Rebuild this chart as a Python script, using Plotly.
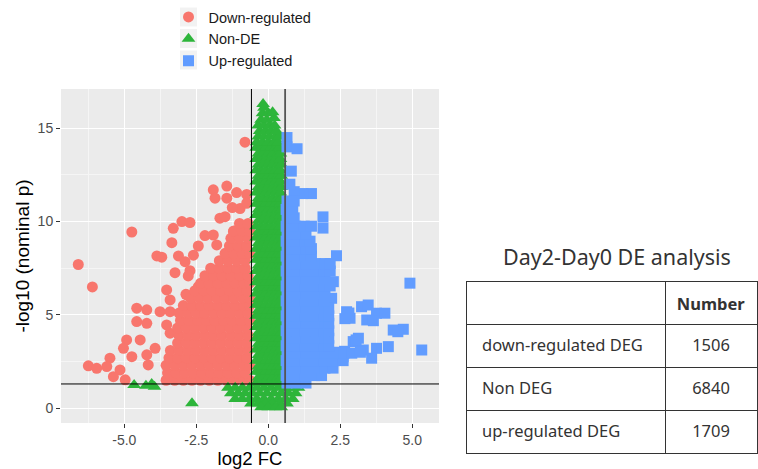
import plotly.graph_objects as go

# ---------------- data ----------------
down_points = [
    # sparse points
    (-6.60,7.70),(-6.11,6.50),(-4.74,9.44),(-3.00,10.00),(-2.72,9.95),(-3.30,9.64),(-3.35,8.87),
    (-2.20,9.25),(-1.91,9.28),(-1.79,8.75),(-2.43,8.69),(-2.60,8.20),(-3.87,8.16),(-3.70,8.09),
    (-3.12,8.16),(-2.89,7.85),(-3.24,7.26),(-2.72,7.37),(-2.78,7.09),(-3.53,6.34),(-2.86,6.10),
    (-2.43,6.51),(-3.41,5.80),(-2.83,6.07),
    (-1.91,11.70),(-1.44,11.90),(-1.10,11.55),(-1.85,11.25),(-1.44,11.25),(-0.75,11.45),
    (-1.68,10.18),(-1.50,10.26),(-0.98,10.70),(-0.75,10.98),(-1.21,9.46),(-0.98,9.73),
    (-0.81,14.25),(-1.25,10.75),
    (-4.57,5.36),(-4.22,5.27),(-3.76,5.17),(-3.41,5.17),(-4.57,4.64),(-4.22,4.55),(-4.45,3.66),
    (-4.92,3.66),(-5.03,3.21),(-4.74,2.76),(-5.50,2.68),(-6.25,2.27),(-5.96,2.14),(-5.61,2.23),
    (-5.15,2.05),(-5.38,1.69),(-4.97,1.52),(-4.17,2.32),(-4.22,2.86),(-3.93,3.21),(-3.41,4.02),
    (-3.53,4.46),
    # dense cloud
    (-3.55,1.5),(-3.25,1.5),(-2.95,1.5),(-2.65,1.5),(-2.35,1.5),(-2.05,1.5),(-1.75,1.5),(-1.45,1.5),(-1.15,1.5),(-0.85,1.5),(-0.65,1.5),
    (-3.50,1.9),(-3.20,1.9),(-2.90,1.9),(-2.60,1.9),(-2.30,1.9),(-2.00,1.9),(-1.70,1.9),(-1.40,1.9),(-1.10,1.9),(-0.80,1.9),
    (-3.55,2.3),(-3.25,2.3),(-2.95,2.3),(-2.65,2.3),(-2.35,2.3),(-2.05,2.3),(-1.75,2.3),(-1.45,2.3),(-1.15,2.3),(-0.85,2.3),(-0.65,2.3),
    (-3.45,2.7),(-3.15,2.7),(-2.85,2.7),(-2.55,2.7),(-2.25,2.7),(-1.95,2.7),(-1.65,2.7),(-1.35,2.7),(-1.05,2.7),(-0.75,2.7),
    (-3.40,3.1),(-3.10,3.1),(-2.80,3.1),(-2.50,3.1),(-2.20,3.1),(-1.90,3.1),(-1.60,3.1),(-1.30,3.1),(-1.00,3.1),(-0.70,3.1),
    (-3.15,3.5),(-2.85,3.5),(-2.55,3.5),(-2.25,3.5),(-1.95,3.5),(-1.65,3.5),(-1.35,3.5),(-1.05,3.5),(-0.75,3.5),
    (-3.10,3.9),(-2.80,3.9),(-2.50,3.9),(-2.20,3.9),(-1.90,3.9),(-1.60,3.9),(-1.30,3.9),(-1.00,3.9),(-0.70,3.9),
    (-3.15,4.3),(-2.85,4.3),(-2.55,4.3),(-2.25,4.3),(-1.95,4.3),(-1.65,4.3),(-1.35,4.3),(-1.05,4.3),(-0.75,4.3),
    (-3.05,4.7),(-2.75,4.7),(-2.45,4.7),(-2.15,4.7),(-1.85,4.7),(-1.55,4.7),(-1.25,4.7),(-0.95,4.7),(-0.65,4.7),
    (-3.10,5.1),(-2.80,5.1),(-2.50,5.1),(-2.20,5.1),(-1.90,5.1),(-1.60,5.1),(-1.30,5.1),(-1.00,5.1),(-0.70,5.1),
    (-2.95,5.5),(-2.65,5.5),(-2.35,5.5),(-2.05,5.5),(-1.75,5.5),(-1.45,5.5),(-1.15,5.5),(-0.85,5.5),(-0.65,5.5),
    (-2.70,5.9),(-2.40,5.9),(-2.10,5.9),(-1.80,5.9),(-1.50,5.9),(-1.20,5.9),(-0.90,5.9),(-0.65,5.9),
    (-2.55,6.3),(-2.25,6.3),(-1.95,6.3),(-1.65,6.3),(-1.35,6.3),(-1.05,6.3),(-0.75,6.3),
    (-2.35,6.7),(-2.05,6.7),(-1.75,6.7),(-1.45,6.7),(-1.15,6.7),(-0.85,6.7),(-0.65,6.7),
    (-2.20,7.1),(-1.90,7.1),(-1.60,7.1),(-1.30,7.1),(-1.00,7.1),(-0.70,7.1),
    (-2.00,7.5),(-1.70,7.5),(-1.40,7.5),(-1.10,7.5),(-0.80,7.5),
    (-1.70,7.9),(-1.40,7.9),(-1.10,7.9),(-0.80,7.9),
    (-1.50,8.3),(-1.20,8.3),(-0.90,8.3),(-0.65,8.3),
    (-1.35,8.7),(-1.05,8.7),(-0.75,8.7),
    (-1.30,9.1),(-1.00,9.1),(-0.70,9.1),
    (-1.20,9.5),(-0.90,9.5),(-0.65,9.5),
    (-1.00,9.9),(-0.70,9.9),
]

nonde_points = [
    # far left, below threshold
    (-4.66,1.25),(-4.25,1.20),(-3.95,1.15),(-4.05,1.30),(-2.65,0.27),
    # below the p threshold, around zero
    (-1.40,1.10),(-1.15,1.10),(-0.90,1.10),(-0.65,1.10),(-0.40,1.10),(-0.15,1.10),(0.10,1.10),(0.35,1.10),(0.60,1.10),(0.85,1.10),(1.05,1.10),
    (-1.30,0.80),(-1.05,0.80),(-0.80,0.80),(-0.55,0.80),(-0.30,0.80),(-0.05,0.80),(0.20,0.80),(0.45,0.80),(0.70,0.80),(0.95,0.80),
    (-1.15,0.50),(-0.90,0.50),(-0.65,0.50),(-0.40,0.50),(-0.15,0.50),(0.10,0.50),(0.35,0.50),(0.60,0.50),(0.85,0.50),
    (-0.60,0.25),(-0.35,0.25),(-0.10,0.25),(0.15,0.25),(0.40,0.25),(0.65,0.25),
    (-0.25,0.05),(0.00,0.05),(0.25,0.05),(0.45,0.05),
    # central column
    (-0.42,1.35),(-0.25,1.35),(-0.08,1.35),(0.09,1.35),(0.26,1.35),(0.42,1.35),
    (-0.34,1.65),(-0.17,1.65),(0.00,1.65),(0.17,1.65),(0.34,1.65),(0.45,1.65),
    (-0.42,1.95),(-0.25,1.95),(-0.08,1.95),(0.09,1.95),(0.26,1.95),(0.42,1.95),
    (-0.34,2.25),(-0.17,2.25),(0.00,2.25),(0.17,2.25),(0.34,2.25),(0.45,2.25),
    (-0.42,2.55),(-0.25,2.55),(-0.08,2.55),(0.09,2.55),(0.26,2.55),(0.42,2.55),
    (-0.34,2.85),(-0.17,2.85),(0.00,2.85),(0.17,2.85),(0.34,2.85),(0.45,2.85),
    (-0.42,3.15),(-0.25,3.15),(-0.08,3.15),(0.09,3.15),(0.26,3.15),(0.42,3.15),
    (-0.34,3.45),(-0.17,3.45),(0.00,3.45),(0.17,3.45),(0.34,3.45),(0.45,3.45),
    (-0.42,3.75),(-0.25,3.75),(-0.08,3.75),(0.09,3.75),(0.26,3.75),(0.42,3.75),
    (-0.34,4.05),(-0.17,4.05),(0.00,4.05),(0.17,4.05),(0.34,4.05),(0.45,4.05),
    (-0.42,4.35),(-0.25,4.35),(-0.08,4.35),(0.09,4.35),(0.26,4.35),(0.42,4.35),
    (-0.34,4.65),(-0.17,4.65),(0.00,4.65),(0.17,4.65),(0.34,4.65),(0.45,4.65),
    (-0.42,4.95),(-0.25,4.95),(-0.08,4.95),(0.09,4.95),(0.26,4.95),(0.42,4.95),
    (-0.34,5.25),(-0.17,5.25),(0.00,5.25),(0.17,5.25),(0.34,5.25),(0.45,5.25),
    (-0.42,5.55),(-0.25,5.55),(-0.08,5.55),(0.09,5.55),(0.26,5.55),(0.42,5.55),
    (-0.34,5.85),(-0.17,5.85),(0.00,5.85),(0.17,5.85),(0.34,5.85),(0.45,5.85),
    (-0.42,6.15),(-0.25,6.15),(-0.08,6.15),(0.09,6.15),(0.26,6.15),(0.42,6.15),
    (-0.34,6.45),(-0.17,6.45),(0.00,6.45),(0.17,6.45),(0.34,6.45),(0.45,6.45),
    (-0.42,6.75),(-0.25,6.75),(-0.08,6.75),(0.09,6.75),(0.26,6.75),(0.42,6.75),
    (-0.34,7.05),(-0.17,7.05),(0.00,7.05),(0.17,7.05),(0.34,7.05),(0.45,7.05),
    (-0.42,7.35),(-0.25,7.35),(-0.08,7.35),(0.09,7.35),(0.26,7.35),(0.42,7.35),
    (-0.34,7.65),(-0.17,7.65),(0.00,7.65),(0.17,7.65),(0.34,7.65),(0.45,7.65),
    (-0.42,7.95),(-0.25,7.95),(-0.08,7.95),(0.09,7.95),(0.26,7.95),(0.42,7.95),
    (-0.34,8.25),(-0.17,8.25),(0.00,8.25),(0.17,8.25),(0.34,8.25),(0.45,8.25),
    (-0.42,8.55),(-0.25,8.55),(-0.08,8.55),(0.09,8.55),(0.26,8.55),(0.42,8.55),
    (-0.34,8.85),(-0.17,8.85),(0.00,8.85),(0.17,8.85),(0.34,8.85),(0.45,8.85),
    (-0.42,9.15),(-0.25,9.15),(-0.08,9.15),(0.09,9.15),(0.26,9.15),(0.42,9.15),
    (-0.34,9.45),(-0.17,9.45),(0.00,9.45),(0.17,9.45),(0.34,9.45),(0.45,9.45),
    (-0.42,9.75),(-0.25,9.75),(-0.08,9.75),(0.09,9.75),(0.26,9.75),(0.42,9.75),
    (-0.34,10.05),(-0.17,10.05),(0.00,10.05),(0.17,10.05),(0.34,10.05),(0.45,10.05),
    (-0.42,10.35),(-0.25,10.35),(-0.08,10.35),(0.09,10.35),(0.26,10.35),(0.42,10.35),
    (-0.34,10.65),(-0.17,10.65),(0.00,10.65),(0.17,10.65),(0.34,10.65),(0.45,10.65),
    (-0.42,10.95),(-0.25,10.95),(-0.08,10.95),(0.09,10.95),(0.26,10.95),(0.42,10.95),
    (-0.34,11.25),(-0.17,11.25),(0.00,11.25),(0.17,11.25),(0.34,11.25),(0.45,11.25),
    (-0.42,11.55),(-0.25,11.55),(-0.08,11.55),(0.09,11.55),(0.26,11.55),(0.42,11.55),
    (-0.34,11.85),(-0.17,11.85),(0.00,11.85),(0.17,11.85),(0.34,11.85),(0.45,11.85),
    (-0.42,12.15),(-0.25,12.15),(-0.08,12.15),(0.09,12.15),(0.26,12.15),(0.42,12.15),
    (-0.34,12.45),(-0.17,12.45),(0.00,12.45),(0.17,12.45),(0.34,12.45),(0.45,12.45),
    (-0.42,12.75),(-0.25,12.75),(-0.08,12.75),(0.09,12.75),(0.26,12.75),(0.42,12.75),
    (-0.34,13.05),(-0.17,13.05),(0.00,13.05),(0.17,13.05),(0.34,13.05),(0.45,13.05),
    (-0.42,13.35),(-0.25,13.35),(-0.08,13.35),(0.09,13.35),(0.26,13.35),(0.42,13.35),
    (-0.34,13.65),(-0.17,13.65),(0.00,13.65),(0.17,13.65),(0.34,13.65),(0.42,13.65),
    (-0.42,13.95),(-0.25,13.95),(-0.08,13.95),(0.09,13.95),(0.26,13.95),(0.38,13.95),
    # top of the column
    (-0.40,14.25),(-0.20,14.25),(0.00,14.25),(0.20,14.25),(0.35,14.25),
    (-0.35,14.55),(-0.15,14.55),(0.05,14.55),(0.25,14.55),(0.38,14.55),
    (-0.30,14.85),(-0.10,14.85),(0.10,14.85),(0.28,14.85),
    (-0.35,15.15),(-0.15,15.15),(0.05,15.15),(0.22,15.15),
    (-0.25,15.45),(-0.05,15.45),(0.20,15.55),
    (-0.20,15.80),(0.00,15.80),(0.15,15.85),
    (-0.15,16.10),(-0.18,16.30),
]

up_points = [
    # sparse points
    (2.37,8.17),(2.26,6.78),(2.20,5.89),(2.72,5.17),(2.84,4.82),(3.24,5.44),(3.47,5.53),(3.76,5.09),
    (4.05,5.09),(3.42,4.73),(3.65,4.69),(4.34,4.19),(4.69,4.23),(3.13,3.75),(2.95,3.57),(4.17,3.30),
    (3.76,3.21),(3.59,2.68),(5.33,3.12),(3.30,3.12),(2.60,2.76),(4.92,6.70),(1.90,10.25),(1.90,9.65),
    (1.50,11.50),(1.20,11.50),(0.90,11.60),(0.75,12.00),(0.80,12.70),(0.65,14.50),(0.65,14.00),
    (1.00,13.90),(2.66,4.80),(2.80,5.10),(4.50,4.10),(3.05,3.66),(2.35,3.00),(2.65,3.05),
    # dense cloud
    (0.65,1.35),(0.98,1.35),(1.31,1.35),
    (0.62,1.75),(0.95,1.75),(1.28,1.75),(1.61,1.75),(1.85,1.75),
    (0.65,2.15),(0.98,2.15),(1.31,2.15),(1.64,2.15),(1.97,2.15),(2.25,2.15),
    (0.62,2.55),(0.95,2.55),(1.28,2.55),(1.61,2.55),(1.94,2.55),(2.27,2.55),(2.60,2.55),
    (0.65,2.95),(0.98,2.95),(1.31,2.95),(1.64,2.95),(1.97,2.95),(2.30,2.95),(2.63,2.95),(2.90,2.95),(3.20,3.00),
    (0.62,3.35),(0.95,3.35),(1.28,3.35),(1.61,3.35),(1.94,3.35),(2.10,3.35),
    (0.65,3.75),(0.98,3.75),(1.31,3.75),(1.64,3.75),(1.97,3.75),(2.10,3.75),
    (0.62,4.15),(0.95,4.15),(1.28,4.15),(1.61,4.15),(1.94,4.15),(2.10,4.15),
    (0.65,4.55),(0.98,4.55),(1.31,4.55),(1.64,4.55),(1.97,4.55),(2.10,4.55),
    (0.62,4.95),(0.95,4.95),(1.28,4.95),(1.61,4.95),(1.94,4.95),(2.10,4.95),
    (0.65,5.35),(0.98,5.35),(1.31,5.35),(1.64,5.35),(1.97,5.35),(2.10,5.35),
    (0.62,5.75),(0.95,5.75),(1.28,5.75),(1.61,5.75),(1.94,5.75),
    (0.65,6.15),(0.98,6.15),(1.31,6.15),(1.64,6.15),(1.97,6.15),
    (0.62,6.55),(0.95,6.55),(1.28,6.55),(1.61,6.55),(1.94,6.55),(2.15,6.55),
    (0.65,6.95),(0.98,6.95),(1.31,6.95),(1.64,6.95),(1.97,6.95),
    (0.62,7.35),(0.95,7.35),(1.28,7.35),(1.61,7.35),(1.94,7.35),(2.15,7.35),
    (0.65,7.75),(0.98,7.75),(1.31,7.75),(1.64,7.75),(1.97,7.75),(2.15,7.75),
    (0.62,8.15),(0.95,8.15),(1.28,8.15),(1.50,8.15),
    (0.65,8.55),(0.98,8.55),(1.31,8.55),(1.50,8.55),
    (0.62,8.95),(0.95,8.95),(1.28,8.95),(1.45,8.95),
    (0.65,9.35),(0.98,9.35),(1.31,9.35),
    (0.62,9.75),(0.95,9.75),(1.25,9.75),(1.50,9.75),
    (0.65,10.20),(0.90,10.20),
    (0.62,10.65),(0.85,10.65),
    (0.65,11.10),(0.90,11.10),
]

series_names = ["Down-regulated", "Non-DE", "Up-regulated"]
series_colors = ["#F8766D", "#2DB53A", "#619CFF"]
series_symbols = ["circle", "triangle-up", "square"]
series_sizes = [11, 12, 11]

x_tick_values = [-5.0, -2.5, 0.0, 2.5, 5.0]
x_tick_labels = ["-5.0", "-2.5", "0.0", "2.5", "5.0"]
y_tick_values = [0, 5, 10, 15]
y_tick_labels = ["0", "5", "10", "15"]

fc_cutoffs = [-0.585, 0.585]
p_cutoff = 1.301

table_title = "Day2-Day0 DE analysis"
table_header = ["", "<b>Number</b>"]
table_labels = ["down-regulated DEG", "Non DEG", "up-regulated DEG"]
table_counts = ["1506", "6840", "1709"]

# ---------------- figure ----------------
W, H = 758, 469
fig = go.Figure()

for name, pts, col, sym, sz in zip(series_names, [down_points, nonde_points, up_points],
                                   series_colors, series_symbols, series_sizes):
    fig.add_trace(go.Scatter(
        x=[p[0] for p in pts], y=[p[1] for p in pts], mode="markers", name=name,
        marker=dict(symbol=sym, size=sz, color=col, line=dict(width=0)),
        hoverinfo="skip", xaxis="x", yaxis="y"))

tab_font = dict(family="Noto Sans", size=16.5, color="#333333")
# table grid (borders)
fig.add_trace(go.Table(
    domain=dict(x=[466 / W, 757 / W], y=[0.0, 1 - 281 / H]),
    columnwidth=[199, 92],
    header=dict(values=["", ""], height=43, fill_color="white",
                line=dict(color="#333333", width=1)),
    cells=dict(values=[["", "", ""], ["", "", ""]], height=43, fill_color="white",
               line=dict(color="#333333", width=1)),
))
# table text (same table, text centred vertically in the rows)
fig.add_trace(go.Table(
    domain=dict(x=[474 / W, 757 / W], y=[0.0, 1 - 284 / H]),
    columnwidth=[191, 92],
    header=dict(values=table_header, height=47, align=["left", "center"],
                fill_color="rgba(0,0,0,0)", line=dict(color="rgba(0,0,0,0)", width=0),
                font=tab_font),
    cells=dict(values=[table_labels, table_counts], height=43, align=["left", "center"],
               fill_color="rgba(0,0,0,0)", line=dict(color="rgba(0,0,0,0)", width=0),
               font=tab_font),
))

shapes = []
for i, xc in enumerate(fc_cutoffs):
    shapes.append(dict(type="line", xref="x", yref="y domain", x0=xc, x1=xc, y0=0, y1=1,
                       line=dict(color="black" if i == 0 else "#555555", width=1 if i == 0 else 1.8),
                       layer="above"))
shapes.append(dict(type="line", xref="x domain", yref="y", x0=0, x1=1, y0=p_cutoff, y1=p_cutoff,
                   line=dict(color="black", width=1), layer="above"))
# legend key backgrounds
for yc in [17, 38.5, 60]:
    shapes.append(dict(type="rect", xref="paper", yref="paper",
                       x0=180 / W, x1=197 / W, y0=1 - (yc + 9.5) / H, y1=1 - (yc - 9.5) / H,
                       fillcolor="#F2F2F2", line=dict(width=0), layer="below"))

fig.update_layout(
    width=W, height=H,
    margin=dict(l=0, r=0, t=0, b=0),
    paper_bgcolor="white",
    plot_bgcolor="#EBEBEB",
    font=dict(family="Liberation Sans, Arial, sans-serif", color="#1A1A1A"),
    shapes=shapes,
    showlegend=True,
    legend=dict(x=(188.5 - 20) / W, y=1 - 1 / H, xanchor="left", yanchor="top",
                bgcolor="rgba(0,0,0,0)", font=dict(size=14.5, color="#1A1A1A"),
                tracegroupgap=0),
    xaxis=dict(domain=[61 / W, 439 / W], range=[-7.2, 5.93],
               tickvals=x_tick_values, ticktext=x_tick_labels,
               showgrid=True, gridcolor="white", gridwidth=1.2,
               minor=dict(tickvals=[-6.25, -3.75, -1.25, 1.25, 3.75],
                          showgrid=True, gridcolor="#F5F5F5", gridwidth=0.6, ticks=""),
               zeroline=False, showline=False,
               ticks="outside", ticklen=4, tickcolor="#333333", tickwidth=1,
               tickfont=dict(size=14, color="#4D4D4D"),
               title=dict(text="log2 FC", font=dict(size=18.5, color="#000000"), standoff=0),
               automargin=False),
    yaxis=dict(domain=[1 - 423 / H, 1 - 89 / H], range=[-0.79, 17.1],
               tickvals=y_tick_values, ticktext=y_tick_labels,
               showgrid=True, gridcolor="white", gridwidth=1.2,
               minor=dict(tickvals=[2.5, 7.5, 12.5],
                          showgrid=True, gridcolor="#F5F5F5", gridwidth=0.6, ticks=""),
               zeroline=False, showline=False,
               ticks="outside", ticklen=4, tickcolor="#333333", tickwidth=1,
               tickfont=dict(size=14, color="#4D4D4D"),
               title=dict(text="-log10 (nominal p)", font=dict(size=19, color="#000000"), standoff=2),
               automargin=False),
    annotations=[dict(text=table_title, xref="paper", yref="paper", x=617 / W, y=1 - 256 / H,
                      showarrow=False, xanchor="center", yanchor="middle",
                      font=dict(family="Noto Sans", size=21.5, color="#333333"))],
)

fig.write_html("out.html")
